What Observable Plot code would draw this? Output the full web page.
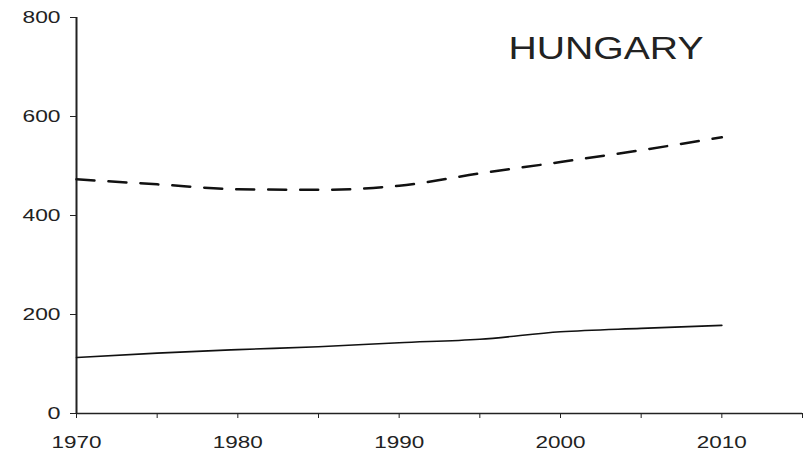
<!DOCTYPE html>
<html>
<head>
<meta charset="utf-8">
<script src="https://cdn.jsdelivr.net/npm/d3@7"></script>
<script src="https://cdn.jsdelivr.net/npm/@observablehq/plot@0.6"></script>
<style>
  html, body { margin: 0; padding: 0; background: #fff; }
  #chart svg { display: block; }
</style>
</head>
<body>
<div id="chart"></div>
<script>
const years = [1970, 1975, 1980, 1985, 1990, 1995, 2000, 2005, 2010];
const dashedSeries = [473, 463, 453, 452, 460, 485, 508, 532, 558];
const solidSeries = [113, 122, 129, 135, 143, 150, 165, 172, 178];
const xTicks = [1970, 1975, 1980, 1985, 1990, 1995, 2000, 2005, 2010, 2015];
const xTickLabels = [1970, 1980, 1990, 2000, 2010];
const yTicks = [0, 200, 400, 600, 800];
const title = "HUNGARY";

const dashedData = years.map((y, i) => ({year: y, value: dashedSeries[i]}));
const solidData = years.map((y, i) => ({year: y, value: solidSeries[i]}));

const chart = Plot.plot({
  width: 812,
  height: 455,
  marginLeft: 76,
  marginRight: 10,
  marginTop: 17,
  marginBottom: 42,
  style: {fontFamily: "'Liberation Sans', Arial, sans-serif", fontSize: "17px", color: "#222", background: "#fff"},
  x: {domain: [1970, 2015], label: null},
  y: {domain: [0, 800], label: null},
  marks: [
    Plot.axisX({ticks: xTicks, tickSize: 5, tickFormat: () => "", stroke: "#222", label: null}),
    Plot.axisX({ticks: xTickLabels, tickSize: 0, tickPadding: 22, tickFormat: d => String(d), fill: "#222", fontSize: 17, label: null, className: "xlab"}),
    Plot.axisY({ticks: yTicks, tickSize: 6, tickPadding: 10, tickFormat: d => String(d), stroke: "#222", fill: "#222", fontSize: 17, label: null, className: "ylab"}),
    Plot.ruleY([0], {x1: 1970, x2: 2015, stroke: "#222", strokeWidth: 1.5}),
    Plot.ruleX([1970], {y1: 0, y2: 800, stroke: "#222", strokeWidth: 2}),
    Plot.line(dashedData, {x: "year", y: "value", stroke: "#111", strokeWidth: 2.5, strokeDasharray: "18,14", curve: "monotone-x"}),
    Plot.line(solidData, {x: "year", y: "value", stroke: "#111", strokeWidth: 1.6, curve: "monotone-x"}),
    Plot.text([title], {frameAnchor: "top-left", text: d => d, dx: 432, dy: 19, textAnchor: "start", fontSize: 31, fill: "#222", className: "ttl"})
  ]
});
d3.select(chart).selectAll(".ttl text")
  .attr("textLength", 195).attr("lengthAdjust", "spacingAndGlyphs");
d3.select(chart).selectAll(".xlab text, .ylab text").each(function() {
  const n = this.textContent.length;
  const w = n === 1 ? 13 : n === 3 ? 38 : 50;
  d3.select(this).attr("textLength", w).attr("lengthAdjust", "spacingAndGlyphs");
});
document.getElementById("chart").appendChild(chart);
</script>
</body>
</html>
